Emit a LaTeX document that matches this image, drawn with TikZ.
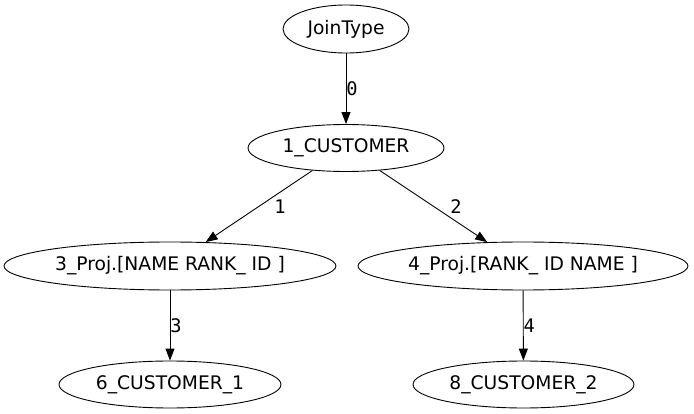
\documentclass[tikz,border=0pt]{standalone}
\usepackage{fontspec}
\setmainfont{DejaVu Sans}
\newfontfamily\lblfont{DejaVu Sans Mono}
\usetikzlibrary{shapes.geometric,arrows.meta}
\tikzset{
  gnode/.style={draw, ellipse, inner sep=0pt, line width=0.9pt,
    font=\fontsize{18.7}{22}\selectfont},
  edge/.style={draw, line width=0.9pt, -{Triangle[length=12pt,width=9pt]}},
  lbl/.style={inner sep=0pt, anchor=west, font=\lblfont\fontsize{18.7}{22}\selectfont}
}
\begin{document}
\begin{tikzpicture}[x=1pt,y=-1pt]
\useasboundingbox (0,0) rectangle (694,414);
\node[gnode, minimum width=126pt, minimum height=48pt] (J) at (346,29) {JoinType};
\node[gnode, minimum width=196pt, minimum height=47pt] (C1) at (346,148) {1\_CUSTOMER};
\node[gnode, minimum width=332pt, minimum height=48pt] (P3) at (170,266) {3\_Proj.[NAME RANK\_ ID ]};
\node[gnode, minimum width=330pt, minimum height=48pt] (P4) at (523,266) {4\_Proj.[RANK\_ ID NAME ]};
\node[gnode, minimum width=222pt, minimum height=47pt] (C6) at (170,384.5) {6\_CUSTOMER\_1};
\node[gnode, minimum width=221pt, minimum height=47pt] (C8) at (523.5,384.5) {8\_CUSTOMER\_2};
\draw[edge] (J) -- node[lbl, midway] {0} (C1);
\draw[edge] (C1) -- node[lbl, midway, xshift=15pt] {1} (P3);
\draw[edge] (C1) -- node[lbl, midway, xshift=16.5pt] {2} (P4);
\draw[edge] (P3) -- node[lbl, midway] {3} (C6);
\draw[edge] (P4) -- node[lbl, midway] {4} (C8);
\end{tikzpicture}
\end{document}
